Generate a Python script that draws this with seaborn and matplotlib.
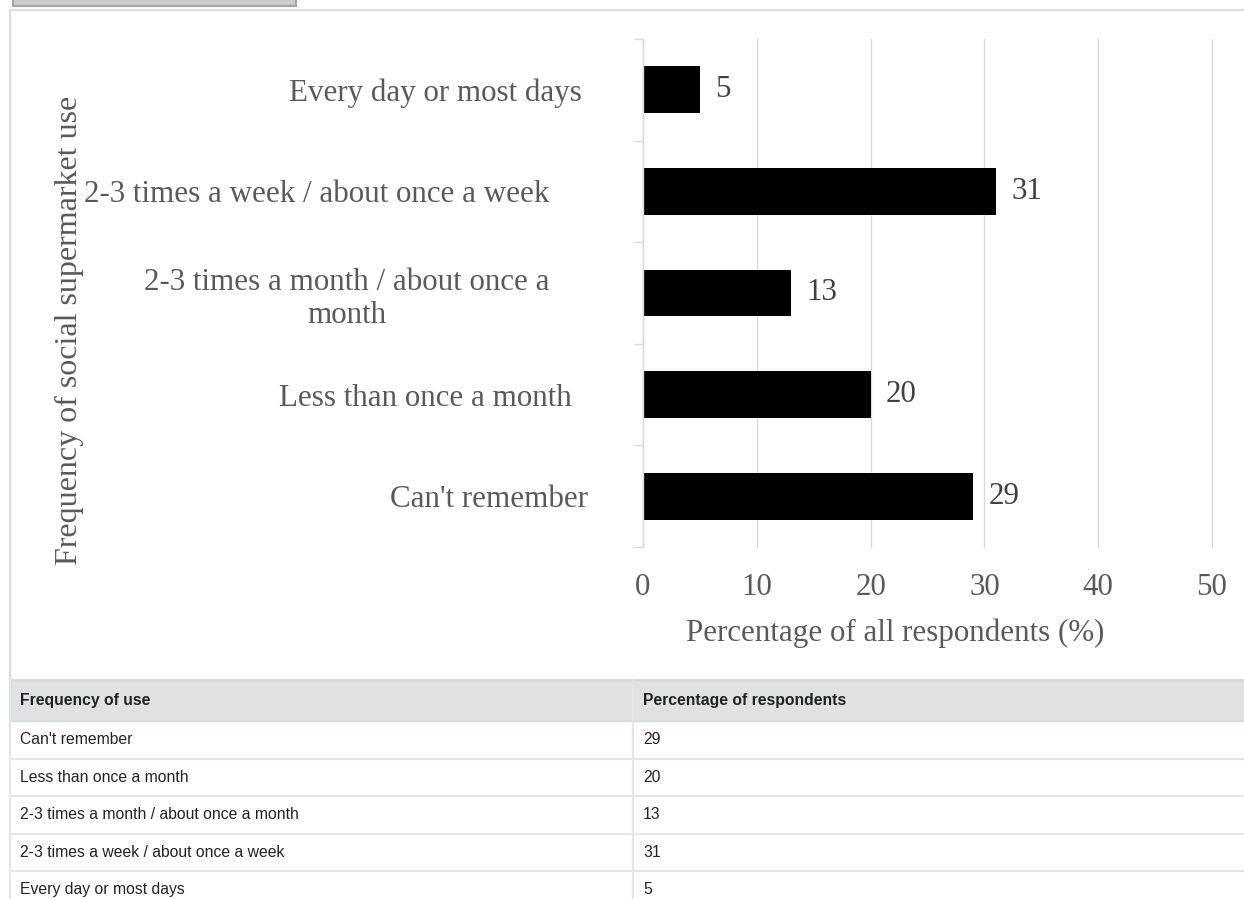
import matplotlib
matplotlib.use("Agg")
import matplotlib.pyplot as plt
import matplotlib.transforms as mtransforms
from matplotlib.patches import Rectangle
from matplotlib.lines import Line2D
import pandas as pd
import seaborn as sns

# Data, in the order of the table below the chart
frequency = ["Can't remember",
             "Less than once a month",
             "2-3 times a month / about once a month",
             "2-3 times a week / about once a week",
             "Every day or most days"]
percent = [29, 20, 13, 31, 5]

table_header = ["Frequency of use", "Percentage of respondents"]
x_ticks = [0, 10, 20, 30, 40, 50]

W, H = 1244, 899


def fx(px):
    return px / W


def fy(py):
    return 1 - py / H


sns.set_style("white")
plt.rcParams["font.family"] = ["Liberation Serif", "DejaVu Serif"]

fig = plt.figure(figsize=(W / 100, H / 100), dpi=100)

# chart shows the table in reverse order (top = last row)
df = pd.DataFrame({"freq": frequency[::-1], "pct": percent[::-1]})

ax = fig.add_axes([fx(643), fy(547), fx(1212) - fx(643), fy(39) - fy(547)])
sns.barplot(data=df, x="pct", y="freq", color="black", saturation=1,
            width=0.46, edgecolor="black", linewidth=0, ax=ax)

ax.set_xlim(0, 50)
ax.set_ylim(len(df) - 0.5, -0.5)
ax.set_xticks(x_ticks)
ax.xaxis.grid(True, color="#d9d9d9", lw=1)
for gl in ax.get_xgridlines():
    gl.set_clip_on(False)
ax.set_axisbelow(True)
for s in ["top", "right", "bottom"]:
    ax.spines[s].set_visible(False)
ax.spines["left"].set_color("#d9d9d9")
ax.spines["left"].set_linewidth(1)

ax.tick_params(axis="x", length=0, pad=18.5, labelsize=22.3, labelcolor="#595959")
ax.tick_params(axis="y", which="major", length=0, pad=44, labelsize=22.3,
               labelcolor="#595959")
ax.set_yticks([i - 0.5 for i in range(len(df) + 1)], minor=True)
ax.tick_params(axis="y", which="minor", left=True, length=6.5, width=1,
               color="#d9d9d9")

# category labels (one wraps onto two lines)
labels = [f.replace("about once a month", "about once a\nmonth") for f in df["freq"]]
ax.set_yticklabels(labels)
shift_px = [0, -33, -32, -10, 6]
for lbl, dx in zip(ax.get_yticklabels(), shift_px):
    lbl.set_multialignment("center")
    lbl.set_transform(lbl.get_transform() +
                      mtransforms.ScaledTranslation(dx / 100, 0, fig.dpi_scale_trans))

ax.bar_label(ax.containers[0], padding=11, fontsize=22.3, color="#404040")

ax.set_xlabel("Percentage of all respondents (%)", fontsize=22.3, color="#595959")
ax.xaxis.set_label_coords(fx(895), fy(618), transform=fig.transFigure)
ax.set_ylabel("Frequency of social supermarket use", fontsize=23, color="#595959")
ax.yaxis.set_label_coords(fx(84), fy(330), transform=fig.transFigure)

# page furniture: button stub and chart frame
fig.add_artist(Rectangle((fx(13), fy(6)), fx(296) - fx(13), fy(-6) - fy(6),
                         transform=fig.transFigure, facecolor="#cccccc",
                         edgecolor="#a3a3a3", lw=1.5))
fig.add_artist(Rectangle((fx(10), fy(680)), fx(1260) - fx(10), fy(10) - fy(680),
                         transform=fig.transFigure, fill=False,
                         edgecolor="#dcdcdc", lw=1.5))

# data table
sans = ["Liberation Sans", "DejaVu Sans"]
head_top, head_bot, row_h = 680, 721, 37.5
fig.add_artist(Rectangle((fx(10), fy(head_bot)), fx(1260) - fx(10),
                         fy(head_top) - fy(head_bot), transform=fig.transFigure,
                         facecolor="#dfe2e5", edgecolor="#d4d7da", lw=1))
for col_x, txt in zip([20, 643], table_header):
    fig.text(fx(col_x), fy((head_top + head_bot) / 2), txt, family=sans,
             fontsize=11.3, fontweight="bold", color="#222222", va="center")
for i, (name, val) in enumerate(zip(frequency, percent)):
    top = head_bot + i * row_h
    fig.text(fx(20), fy(top + row_h / 2), name, family=sans, fontsize=11.3,
             color="#222222", va="center")
    fig.text(fx(643), fy(top + row_h / 2), str(val), family=sans, fontsize=11.3,
             color="#222222", va="center")
    fig.add_artist(Line2D([fx(10), fx(1260)], [fy(top + row_h)] * 2,
                          transform=fig.transFigure, color="#e3e6e9", lw=1.5))
fig.add_artist(Line2D([fx(633), fx(633)], [fy(head_top), fy(H + 5)],
                      transform=fig.transFigure, color="#e3e6e9", lw=1.5))
fig.add_artist(Line2D([fx(10), fx(10)], [fy(head_top), fy(H + 5)],
                      transform=fig.transFigure, color="#e3e6e9", lw=1.5))

fig.savefig("out.png", dpi=100)
